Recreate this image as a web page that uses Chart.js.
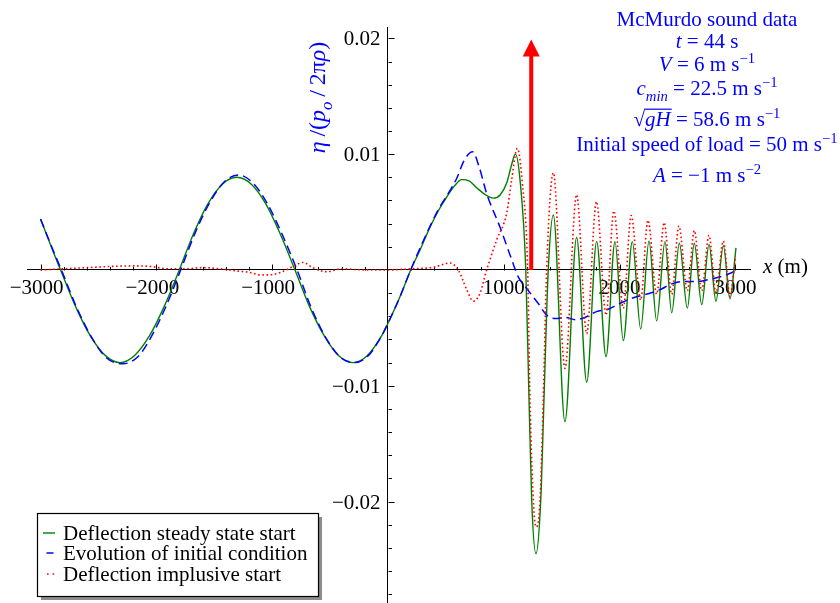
<!DOCTYPE html>
<html><head><meta charset="utf-8">
<script src="https://cdn.jsdelivr.net/npm/chart.js@4.4.0/dist/chart.umd.min.js"></script>
<style>html,body{margin:0;padding:0;background:#fff}canvas{display:block}</style>
</head><body>
<canvas id="c" width="840" height="603"></canvas>
<script>
// ---- data ----
const greenX = [-3000,-2900,-2827,-2700,-2570,-2440,-2314,-2190,-2060,-1930,-1802,-1680,-1555,-1430,-1307,-1180,-1055,-930,-803,-680,-550,-425,-300,-180,-50,0,100,196,280,363,440,507,570,636,700,766,840,910,970,1025,1065,1100,1140,1190,1218,1241,1278,1319,1347,1384,1428,1528,1629,1716,1802,1883,1960,2032,2110,2182,2254,2320,2392,2450,2516,2585,2645,2709,2772,2832,2896,2953,3005];
const greenY = [0.0044,0.0018,0,-0.0031,-0.0057,-0.0074,-0.0080,-0.0074,-0.0057,-0.0031,0,0.0031,0.0057,0.0074,0.0080,0.0074,0.0057,0.0031,0,-0.0031,-0.0057,-0.0074,-0.0080,-0.0074,-0.0056,-0.0046,-0.0024,0,0.0018,0.0037,0.0052,0.0063,0.0072,0.0078,0.0077,0.0071,0.0065,0.0062,0.0065,0.0075,0.0090,0.0100,0.0078,0,-0.0112,-0.0199,-0.0245,-0.0199,-0.0112,0,0.00475,-0.0131,0.0028,-0.0097,0.00245,-0.0075,0.00245,-0.0061,0.00245,-0.0051,0.0025,-0.0044,0.00245,-0.0037,0.0023,-0.0033,0.0023,-0.0030,0.0022,-0.0027,0.0021,-0.0025,0.0019];

const blueX = [-3000,-2900,-2820,-2690,-2560,-2430,-2290,-2160,-2040,-1915,-1790,-1665,-1540,-1415,-1290,-1165,-1040,-915,-785,-665,-540,-415,-290,-170,-50,0,100,196,300,434,520,593,660,731,790,852,967,1068,1125,1198,1298,1370,1450,1530,1620,1700,1800,1900,2000,2120,2230,2350,2450,2560,2670,2780,2900,3000];
const blueY = [0.0044,0.0019,0,-0.0032,-0.0058,-0.0076,-0.0081,-0.0075,-0.0057,-0.0031,0,0.0032,0.0058,0.0076,0.0082,0.0075,0.0057,0.0031,0,-0.0032,-0.0058,-0.0075,-0.0080,-0.0074,-0.0056,-0.0046,-0.0024,0,0.0024,0.0052,0.0066,0.0079,0.0095,0.0102,0.0088,0.0066,0.0037,0.0009,-0.0006,-0.0016,-0.0029,-0.0039,-0.0042,-0.0041,-0.0043,-0.0041,-0.0036,-0.0034,-0.0029,-0.0024,-0.0021,-0.0017,-0.0012,-0.0010,-0.0010,-0.0008,-0.0005,-0.0001];

const redX = [-3000,-2800,-2600,-2400,-2200,-2050,-1900,-1750,-1600,-1450,-1300,-1200,-1100,-1000,-900,-800,-733,-650,-530,-400,-200,0,200,391,535,607,680,737,795,852,939,1025,1068,1117,1160,1206,1226,1255,1278,1313,1341,1370,1428,1528,1629,1716,1800,1883,1950,2032,2100,2182,2245,2320,2385,2450,2512,2585,2645,2709,2772,2832,2896,2953,3000];
const redY = [0,0.0001,0.0002,0.0003,0.00035,0.0003,0.0001,0.0001,0.0002,0.0001,-0.0001,-0.0002,-0.00043,-0.0004,-0.0001,0.0004,0.00065,0.0002,-0.00015,0.0001,0,0,0.0001,0.00023,0.0006,0,-0.0017,-0.0027,-0.0020,0,0.0026,0.0049,0.0078,0.0105,0.0075,0,-0.0112,-0.0199,-0.0222,-0.0199,-0.0112,0,0.0084,-0.0085,0.0065,-0.0055,0.0059,-0.0039,0.0051,-0.0033,0.0047,-0.0026,0.0043,-0.0021,0.0041,-0.0021,0.0038,-0.0018,0.0034,-0.0018,0.0030,-0.0020,0.0025,-0.0023,0.0012];

const seriesLabels = ['Deflection steady state start','Evolution of initial condition','Deflection implusive start'];

const xMajorTicks = [-3000,-2000,-1000,1000,2000,3000];
const xTickLabels = ['\u22123000','\u22122000','\u22121000','1000','2000','3000'];
const yMajorTicks = [0.02,0.01,-0.01,-0.02];
const yTickLabels = ['0.02','0.01','\u22120.01','\u22120.02'];

const arrowX = 1237;
const arrowBaseY = 0;
const arrowTipY = 0.0199;

const infoLines = [
  [['McMurdo sound data','n']],
  [['t','i'],[' = 44 s','n']],
  [['V','i'],[' = 6 m s','n'],['\u22121','sup']],
  [['c','i'],['min','isub'],[' = 22.5 m s','n'],['\u22121','sup']],
  [['\u221A','n'],['gH','io'],[' = 58.6 m s','n'],['\u22121','sup']],
  [['Initial speed of load = 50 m s','n'],['\u22121','sup']],
  [['A','i'],[' = \u22121 m s','n'],['\u22122','sup']]
];
const yTitle = [['\u03B7','i'],['\u2009/(','n'],['p','i'],['o','isub'],['\u2009/\u20092\u03C0','n'],['\u03C1','i'],[')','n']];
const xTitle = [['x','i'],[' (m)','n']];

// ---- drawing ----
const FONT = "'Liberation Serif','Times New Roman',serif";
const toPts = (xs, ys) => xs.map((x, i) => ({x, y: ys[i]}));

function drawRich(ctx, segs, x, y, size, align) {
  let w = 0;
  const parts = segs.map(([t, s]) => {
    const small = s === 'sup' || s === 'isub';
    const fs = small ? size * 0.7 : size;
    const it = s === 'i' || s === 'isub' || s === 'io';
    const font = (it ? 'italic ' : '') + fs + 'px ' + FONT;
    ctx.font = font;
    const mw = ctx.measureText(t).width;
    w += mw;
    return {t, s, font, mw};
  });
  let cx = align === 'center' ? x - w / 2 : x;
  ctx.textAlign = 'left';
  ctx.textBaseline = 'alphabetic';
  for (const p of parts) {
    ctx.font = p.font;
    const dy = p.s === 'sup' ? -size * 0.38 : (p.s === 'isub' ? size * 0.3 : 0);
    ctx.fillText(p.t, cx, y + dy);
    if (p.s === 'io') {
      ctx.save();
      ctx.strokeStyle = ctx.fillStyle;
      ctx.lineWidth = 1.2;
      ctx.beginPath();
      ctx.moveTo(cx - 1, y - size * 0.80);
      ctx.lineTo(cx + p.mw + 1, y - size * 0.80);
      ctx.stroke();
      ctx.restore();
    }
    cx += p.mw;
  }
}

const xMinorVals = [];
for (let v = -3000; v <= 3000; v += 200) xMinorVals.push(v);
const yMinorVals = [];
for (let k = -14; k <= 10; k++) yMinorVals.push(Math.round(k * 2) / 1000);

const axisDecor = {
  id: 'axisDecor',
  beforeDatasetsDraw(chart) {
    const ctx = chart.ctx, xs = chart.scales.x, ys = chart.scales.y;
    const x0 = Math.round(xs.getPixelForValue(0)) + 0.5;
    const y0 = Math.round(ys.getPixelForValue(0)) + 0.5;
    ctx.save();
    ctx.strokeStyle = '#000';
    ctx.lineWidth = 1;
    ctx.beginPath();
    for (const v of xMinorVals) {
      if (v === 0) continue;
      const px = Math.round(xs.getPixelForValue(v)) + 0.5;
      const len = xMajorTicks.includes(v) ? 6 : 3.5;
      ctx.moveTo(px, y0); ctx.lineTo(px, y0 - len);
    }
    for (const v of yMinorVals) {
      if (Math.abs(v) < 1e-9) continue;
      const py = Math.round(ys.getPixelForValue(v)) + 0.5;
      const len = yMajorTicks.some(m => Math.abs(m - v) < 1e-9) ? 6 : 3.5;
      ctx.moveTo(x0, py); ctx.lineTo(x0 + len, py);
    }
    ctx.stroke();
    ctx.fillStyle = '#000';
    ctx.font = '21px ' + FONT;
    ctx.textBaseline = 'alphabetic';
    ctx.textAlign = 'center';
    xMajorTicks.forEach((v, i) => ctx.fillText(xTickLabels[i], xs.getPixelForValue(v) - (v < 0 ? 4 : 0), y0 + 23));
    ctx.textAlign = 'right';
    yMajorTicks.forEach((v, i) => ctx.fillText(yTickLabels[i], x0 - 8, ys.getPixelForValue(v) + 7));
    drawRich(ctx, xTitle, 763, y0 + 2, 21, 'left');
    ctx.restore();
  },
  afterDatasetsDraw(chart) {
    const ctx = chart.ctx, xs = chart.scales.x, ys = chart.scales.y;
    // arrow
    const ax = xs.getPixelForValue(arrowX);
    const ay0 = ys.getPixelForValue(arrowBaseY);
    const ay1 = ys.getPixelForValue(arrowTipY);
    ctx.save();
    ctx.strokeStyle = '#ff0000';
    ctx.fillStyle = '#ff0000';
    ctx.lineWidth = 4;
    ctx.beginPath(); ctx.moveTo(ax, ay0); ctx.lineTo(ax, ay1 + 14); ctx.stroke();
    ctx.beginPath(); ctx.moveTo(ax, ay1); ctx.lineTo(ax - 8.5, ay1 + 17); ctx.lineTo(ax + 8.5, ay1 + 17); ctx.closePath(); ctx.fill();
    // info text
    ctx.fillStyle = '#0000ff';
    const baselines = [26, 47.5, 70.5, 94.5, 126, 151, 182];
    infoLines.forEach((segs, i) => drawRich(ctx, segs, 707, baselines[i], 21, 'center'));
    // y title
    ctx.translate(325, 97.5);
    ctx.rotate(-Math.PI / 2);
    drawRich(ctx, yTitle, 0, 0, 24, 'center');
    ctx.restore();
    // legend
    ctx.save();
    const lx = 37, ly = 513, lw = 281, lh = 83;
    ctx.fillStyle = '#8c8c8c';
    ctx.fillRect(lx + 4, ly + 4, lw, lh);
    ctx.fillStyle = '#fff';
    ctx.fillRect(lx, ly, lw, lh);
    ctx.strokeStyle = '#000';
    ctx.lineWidth = 1.2;
    ctx.strokeRect(lx + 0.5, ly + 0.5, lw, lh);
    const rows = [540, 560, 581];
    const ds = chart.data.datasets;
    rows.forEach((b, i) => {
      const sy = b - 7;
      ctx.strokeStyle = ds[i].borderColor;
      ctx.lineWidth = ds[i].borderWidth;
      ctx.setLineDash(i === 0 ? [] : i === 1 ? [7, 20] : [1.6, 4]);
      ctx.beginPath();
      if (i === 0) { ctx.moveTo(43, sy); ctx.lineTo(55, sy); }
      else if (i === 1) { ctx.moveTo(46.5, sy); ctx.lineTo(53.5, sy); }
      else { ctx.moveTo(47, sy); ctx.lineTo(55, sy); }
      ctx.stroke();
      ctx.setLineDash([]);
      ctx.fillStyle = '#000';
      ctx.font = '21px ' + FONT;
      ctx.textAlign = 'left';
      ctx.textBaseline = 'alphabetic';
      ctx.fillText(ds[i].label, 63, b);
    });
    ctx.restore();
  }
};

new Chart(document.getElementById('c'), {
  type: 'line',
  data: {
    datasets: [
      {label: seriesLabels[0], data: toPts(greenX, greenY), borderColor: '#008000', borderWidth: 1.4, order: 3},
      {label: seriesLabels[1], data: toPts(blueX, blueY), borderColor: '#0000ff', borderWidth: 1.5, borderDash: [9, 5], order: 2},
      {label: seriesLabels[2], data: toPts(redX, redY), borderColor: '#ff0000', borderWidth: 1.6, borderDash: [1.6, 2.6], order: 1}
    ]
  },
  options: {
    responsive: false,
    devicePixelRatio: 1,
    animation: false,
    layout: {padding: {left: 27, right: 90, top: 27, bottom: 0}},
    elements: {point: {radius: 0}, line: {cubicInterpolationMode: 'monotone', fill: false}},
    plugins: {legend: {display: false}, tooltip: {enabled: false}},
    scales: {
      x: {type: 'linear', min: -3117, max: 3126, position: {y: 0},
          grid: {display: false, drawTicks: false},
          border: {display: true, color: '#000', width: 1},
          ticks: {display: false}},
      y: {type: 'linear', min: -0.02876, max: 0.02098, position: {x: 0},
          grid: {display: false, drawTicks: false},
          border: {display: true, color: '#000', width: 1},
          ticks: {display: false}}
    }
  },
  plugins: [axisDecor]
});
</script>
</body></html>
